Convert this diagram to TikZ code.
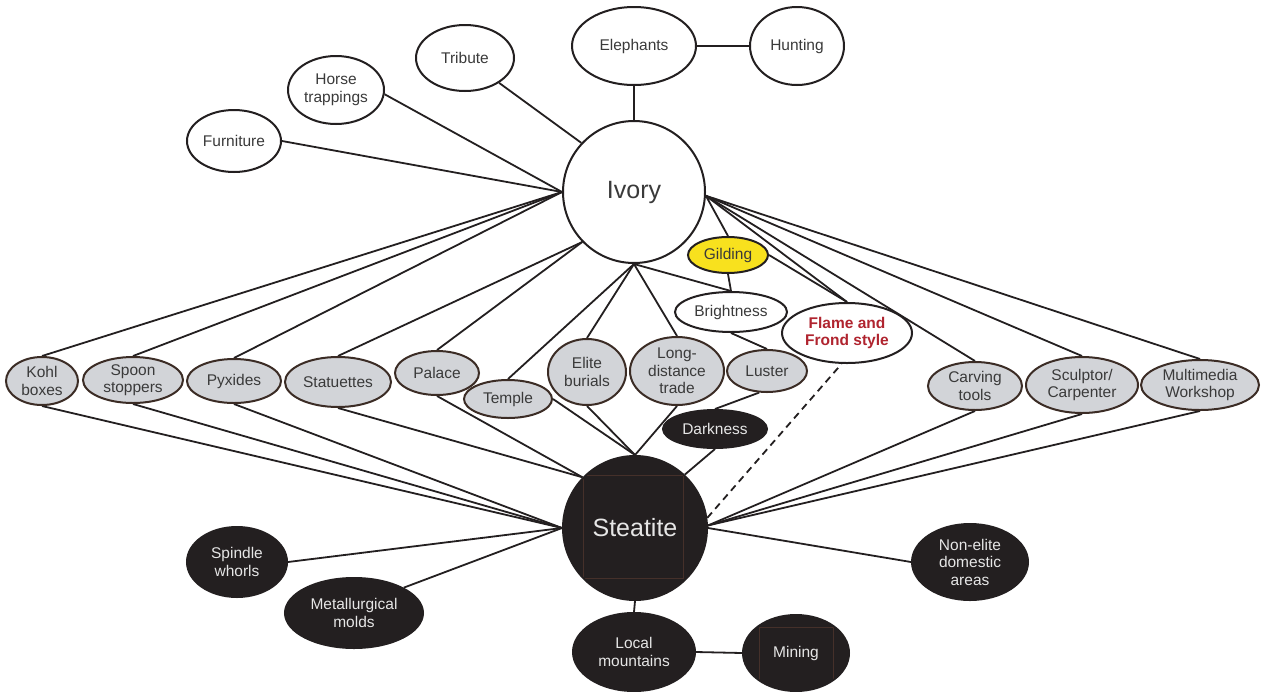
\documentclass[tikz,border=0pt]{standalone}
\usepackage{fontspec}
\setmainfont{Liberation Sans}
\usetikzlibrary{shapes.geometric,backgrounds}
\definecolor{ink}{HTML}{231F20}
\definecolor{txt}{HTML}{3A3A3A}
\definecolor{grayfill}{HTML}{D2D4D8}
\definecolor{grayedge}{HTML}{3B2C25}
\definecolor{goldfill}{HTML}{F8E11E}
\definecolor{flamered}{HTML}{B0242F}
\definecolor{paletext}{HTML}{E6E6E6}
\definecolor{boxedge}{HTML}{45302A}

\begin{document}
\begin{tikzpicture}[x=1pt,y=-1pt,
  base/.style={ellipse, inner sep=0pt, align=center,
    font=\fontsize{15.5}{17.5}\selectfont, line width=2pt},
  whiteov/.style={base, draw=ink, fill=white, text=txt},
  grayov/.style={base, draw=grayedge, fill=grayfill, text=txt},
  darkov/.style={base, draw=ink, fill=ink, text=paletext},
  bigcircle/.style={circle, inner sep=0pt, line width=2pt,
    font=\fontsize{25}{30}\selectfont},
  link/.style={line width=1.8pt, draw=ink},
  dashlink/.style={line width=1.8pt, draw=ink, dash pattern=on 7pt off 5pt},
  innerbox/.style={draw=boxedge, line width=0.6pt},
]
\useasboundingbox (0,0) rectangle (1261,691);

% ---- hubs ----
\node[bigcircle, draw=ink, fill=white, text=txt, minimum size=142] (ivory) at (634,192) {Ivory};
\node[bigcircle, draw=ink, fill=ink, text=paletext, minimum size=144] (st) at (635,528) {};

% ---- ivory-only uses (top) ----
\node[whiteov, minimum width=124, minimum height=78] (eleph) at (634,46) {Elephants};
\node[whiteov, minimum width=94, minimum height=78] (hunt) at (797,46) {Hunting};
\node[whiteov, minimum width=98, minimum height=66] (tribute) at (465,58) {Tribute};
\node[whiteov, minimum width=96, minimum height=68] (horse) at (336,90) {Horse\\trappings};
\node[whiteov, minimum width=94, minimum height=62] (furn) at (234,141) {Furniture};

% ---- shared uses (middle row) ----
\node[grayov, minimum width=72, minimum height=48] (kohl) at (42,381) {Kohl\\boxes};
\node[grayov, minimum width=100, minimum height=46] (spoon) at (133,380) {Spoon\\stoppers};
\node[grayov, minimum width=94, minimum height=44] (pyx) at (234,381) {Pyxides};
\node[grayov, minimum width=106, minimum height=50] (stat) at (338,382) {Statuettes};
\node[grayov, minimum width=84, minimum height=44] (palace) at (437,373) {Palace};
\node[grayov, minimum width=88, minimum height=38] (temple) at (508,399) {Temple};
\node[grayov, minimum width=78, minimum height=66] (elite) at (587,372) {Elite\\burials};
\node[grayov, minimum width=94, minimum height=68] (ld) at (677,371) {Long-\\distance\\trade};
\node[grayov, minimum width=80, minimum height=42] (luster) at (767,371) {Luster};
\node[darkov, minimum width=104, minimum height=38] (dark) at (715,429) {Darkness};
\node[base, draw=ink, fill=goldfill, text=txt, minimum width=80, minimum height=36] (gild) at (728,255) {Gilding};
\node[whiteov, minimum width=112, minimum height=40] (bright) at (731,312) {Brightness};
\node[whiteov, text=flamered, font=\fontsize{15.5}{17.5}\selectfont\bfseries,
  minimum width=130, minimum height=60] (flame) at (847,333) {Flame and\\Frond style};
\node[grayov, minimum width=94, minimum height=48] (carv) at (975,386) {Carving\\tools};
\node[grayov, minimum width=112, minimum height=56] (sculp) at (1082,385) {Sculptor/\\Carpenter};
\node[grayov, minimum width=118, minimum height=50] (mm) at (1200,385) {Multimedia\\Workshop};

% ---- steatite-only uses (bottom) ----
\node[darkov, minimum width=100, minimum height=70] (spindle) at (237,562) {Spindle\\whorls};
\node[darkov, minimum width=138, minimum height=70] (metal) at (354,613) {Metallurgical\\molds};
\node[darkov, minimum width=122, minimum height=78] (local) at (634,652) {Local\\mountains};
\node[darkov, minimum width=106, minimum height=76] (mining) at (796,653) {};
\node[darkov, minimum width=116, minimum height=76] (nonelite) at (970,562) {Non-elite\\domestic\\areas};

% faint frames inside the dark discs
\begin{scope}
  \clip (st.center) circle [radius=71];
  \draw[innerbox] ([shift={(-52,-53)}]st.center) rectangle ([shift={(48,50)}]st.center);
\end{scope}
\begin{scope}
  \clip (mining.center) ellipse [x radius=52, y radius=37];
  \draw[innerbox] ([shift={(-37,-26)}]mining.center) rectangle ([shift={(37,40)}]mining.center);
\end{scope}
\node[text=paletext, font=\fontsize{25}{30}\selectfont] (stlabel) at (st.center) {Steatite};
\node[text=paletext, font=\fontsize{15.5}{17.5}\selectfont] (minlabel) at (mining.center) {Mining};

% ---- connectors, kept behind the nodes ----
\begin{scope}[on background layer]
  \fill[white] (0,0) rectangle (1261,691);
  % ivory side
  \draw[link] (ivory.north) -- (eleph.south);
  \draw[link] (eleph.east) -- (hunt.west);
  \draw[link] (ivory.137) -- (tribute);
  \draw[link] (ivory.west) -- (horse.-5);
  \draw[link] (ivory.west) -- (furn.east);
  \draw[link] (ivory.west) -- (kohl.north);
  \draw[link] (ivory.west) -- (spoon.north);
  \draw[link] (ivory.west) -- (pyx.north);
  \draw[link] (ivory.224) -- (stat.north);
  \draw[link] (ivory.224) -- (palace.north);
  \draw[link] (ivory.south) -- (temple.north);
  \draw[link] (ivory.south) -- (elite.north);
  \draw[link] (ivory.south) -- (ld.north);
  \draw[link] (ivory.south) -- (bright.north);
  \draw[link] (ivory.-3) -- (gild.north);
  \draw[link] (ivory.-3) -- (flame.north);
  \draw[link] (ivory.-3) -- (carv.north);
  \draw[link] (ivory.-3) -- (sculp.north);
  \draw[link] (ivory.-3) -- (mm.north);
  % qualities
  \draw[link] (gild.south) -- (bright.north);
  \draw[link] (gild.east) -- (flame.north);
  \draw[link] (bright.south) -- (luster.north);
  \draw[link] (luster.-110) -- (dark.north);
  % steatite side
  \draw[link] (st.west) -- (kohl.south);
  \draw[link] (st.west) -- (spoon.south);
  \draw[link] (st.west) -- (pyx.south);
  \draw[link] (st.136) -- (stat.south);
  \draw[link] (st.136) -- (palace.south);
  \draw[link] (st.north) -- (temple.east);
  \draw[link] (st.north) -- (elite.south);
  \draw[link] (st.north) -- (ld.south);
  \draw[link] (st.47) -- (dark.south);
  \draw[dashlink] (st.8) -- (flame.-100);
  \draw[link] (st.2) -- (carv.south);
  \draw[link] (st.2) -- (sculp.south);
  \draw[link] (st.2) -- (mm.south);
  \draw[link] (st.east) -- (nonelite.west);
  \draw[link] (st.west) -- (spindle.east);
  \draw[link] (st.west) -- (metal.27);
  \draw[link] (st.south) -- (local.north);
  \draw[link] (local.east) -- (mining.west);
\end{scope}
\end{tikzpicture}
\end{document}
